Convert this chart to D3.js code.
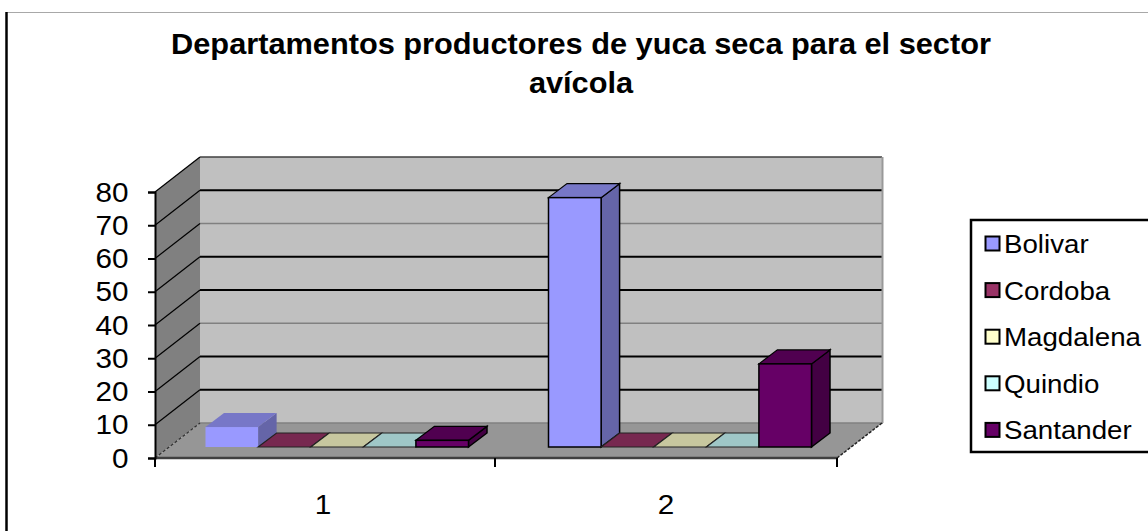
<!DOCTYPE html>
<html><head><meta charset="utf-8">
<script src="https://cdnjs.cloudflare.com/ajax/libs/d3/7.8.5/d3.min.js"></script>
<style>html,body{margin:0;padding:0;background:#fff;overflow:hidden}svg{display:block}text{font-family:"Liberation Sans",Arial,sans-serif;fill:#000}</style>
</head><body><svg id="c" width="1148" height="531"></svg>
<script>
const titleLines = ["Departamentos productores de yuca seca para el sector", "avícola"];
const categories = ["1", "2"];
const seriesNames = ["Bolivar", "Cordoba", "Magdalena", "Quindio", "Santander"];
const seriesColors = ["#9999FF", "#993366", "#FFFFCC", "#CCFFFF", "#660066"];
const bolivar = [6, 75];
const cordoba = [0, 0];
const magdalena = [0, 0];
const quindio = [0, 0];
const santander = [2, 25];
const yTicks = [0, 10, 20, 30, 40, 50, 60, 70, 80];

const seriesValues = [bolivar, cordoba, magdalena, quindio, santander];
const svg = d3.select("#c");
const X0 = 155, X1 = 837, Y0 = 458, Y80 = 192;
const DX = 45, DY = 35;          // floor depth
const GX = 14, GY = 11;          // gap from front edge to bars
const BX = 18.5, BY = 14;        // bar depth

const y = d3.scaleLinear().domain([0, 80]).range([Y0, Y80]);
const x = d3.scaleBand().domain(categories).range([165.5, 851.5]);
const inner = d3.scaleBand().domain(seriesNames).range([40, 303]);
const pts = a => a.map(p => p.join(",")).join(" ");

function stext(g, s, px, py, size, anchor, weight, sx) {
  return g.append("text").text(s).attr("font-size", size).attr("font-weight", weight || "normal")
    .attr("text-anchor", anchor).attr("transform", `translate(${px},${py}) scale(${sx},1)`);
}

// frame
svg.append("line").attr("x1", 6).attr("x2", 1148).attr("y1", 12.5).attr("y2", 12.5).attr("stroke", "#a8a8a8").attr("stroke-width", 1);
svg.append("line").attr("x1", 6.5).attr("x2", 6.5).attr("y1", 12).attr("y2", 531).attr("stroke", "#000").attr("stroke-width", 2.5);

// title
titleLines.forEach((t, i) => stext(svg, t, 581, 54 + i * 39, 30, "middle", "bold", 1.025));

// walls and floor
svg.append("polygon").attr("points", pts([[X0 + DX, y(80) - DY], [X1 + DX + 1, y(80) - DY], [X1 + DX + 1, y(0) - DY], [X0 + DX, y(0) - DY]])).attr("fill", "#c0c0c0");
svg.append("polygon").attr("points", pts([[X0, y(80)], [X0 + DX, y(80) - DY], [X0 + DX, y(0) - DY], [X0, y(0)]])).attr("fill", "#808080");
svg.append("polygon").attr("points", pts([[X0, y(0)], [X0 + DX, y(0) - DY], [X1 + DX, y(0) - DY], [X1, y(0)]])).attr("fill", "#969696");

// gridlines on back and side wall; raster aliasing makes some of them thin and gray
const grayTicks = [0, 30, 60];
yTicks.forEach(v => {
  const yy = y(v) - DY;
  const gray = grayTicks.includes(v);
  if (v === 80) {
    svg.append("line").attr("x1", X0 + DX).attr("x2", X1 + DX).attr("y1", yy).attr("y2", yy).attr("stroke", "#404040").attr("stroke-width", 1.5);
  } else {
    svg.append("line").attr("x1", X0 + DX).attr("x2", X1 + DX + 1).attr("y1", yy).attr("y2", yy)
      .attr("stroke", gray ? "#808080" : "#000").attr("stroke-width", gray ? 1.5 : 2);
  }
  svg.append("line").attr("x1", X0).attr("x2", X0 + DX).attr("y1", y(v)).attr("y2", yy).attr("stroke", v === 0 ? "#303030" : "#000").attr("stroke-width", 1.2).attr("stroke-dasharray", v === 0 ? "3 2" : null);
});
svg.append("line").attr("x1", X1 + DX + .5).attr("x2", X1 + DX + .5).attr("y1", y(80) - DY).attr("y2", y(0) - DY).attr("stroke", "#999").attr("stroke-width", 2);
svg.append("line").attr("x1", X1).attr("x2", X1 + DX).attr("y1", y(0)).attr("y2", y(0) - DY).attr("stroke", "#222").attr("stroke-width", 1.5).attr("stroke-dasharray", "3 1.5");

// bars
categories.forEach((c, ci) => {
  seriesNames.forEach((s, si) => {
    const v = seriesValues[si][ci];
    const col = d3.rgb(seriesColors[si]);
    const shade = k => d3.rgb(col.r * k, col.g * k, col.b * k).formatHex();
    const w = inner.bandwidth();
    const xl = x(c) + inner(s), xr = xl + w;
    const yb = y(0) - GY, yt = y(v) - GY;
    const outlined = !(ci === 0 && si === 0) && v > 0;
    const stroke = outlined ? "#000" : "none";
    const g = svg.append("g").attr("stroke-linejoin", "miter");
    g.append("polygon").attr("points", pts([[xr, yb], [xr + BX, yb - BY], [xr + BX, yt - BY], [xr, yt]]))
      .attr("fill", shade(0.66)).attr("stroke", stroke).attr("stroke-width", 1.5);
    g.append("polygon").attr("points", pts([[xl, yt], [xl + BX, yt - BY], [xr + BX, yt - BY], [xr, yt]]))
      .attr("fill", shade(0.78)).attr("stroke", v > 0 ? stroke : "#222").attr("stroke-width", 1.2);
    if (v > 0) g.append("rect").attr("x", xl).attr("y", yt).attr("width", w).attr("height", yb - yt)
      .attr("fill", seriesColors[si]).attr("stroke", stroke).attr("stroke-width", 1.5);
  });
});

// front floor edge
svg.append("line").attr("x1", X0).attr("x2", X1).attr("y1", y(0)).attr("y2", y(0)).attr("stroke", "#404040").attr("stroke-width", 2.5);

// axes
const yAxis = d3.axisLeft(y).tickValues(yTicks).tickSize(7).tickFormat("");
const gy = svg.append("g").attr("transform", `translate(${X0},0)`).call(yAxis);
gy.selectAll("path,line").attr("stroke", "#000").attr("stroke-width", 2);
yTicks.forEach(v => stext(svg, String(v), 128.5, y(v) + 9.5, 27.5, "end", "normal", 1.08));

const xTickPos = [X0, 495, X1];
xTickPos.forEach(px => svg.append("line").attr("x1", px).attr("x2", px).attr("y1", y(0)).attr("y2", y(0) + 9).attr("stroke", "#000").attr("stroke-width", 2));
categories.forEach(c => stext(svg, c, x(c) + x.bandwidth() / 2 - 14, 514, 27.5, "middle", "normal", 1.08));

// legend
svg.append("rect").attr("x", 971).attr("y", 220).attr("width", 200).attr("height", 232).attr("fill", "#fff").attr("stroke", "#000").attr("stroke-width", 2.5);
seriesNames.forEach((s, i) => {
  const cy = 243.5 + i * 46.6;
  svg.append("rect").attr("x", 985.5).attr("y", cy - 7).attr("width", 14).attr("height", 14).attr("fill", seriesColors[i]).attr("stroke", "#000").attr("stroke-width", 2);
  stext(svg, s, 1004, cy + 9.5, 26, "start", "normal", 1.065);
});
</script></body></html>
